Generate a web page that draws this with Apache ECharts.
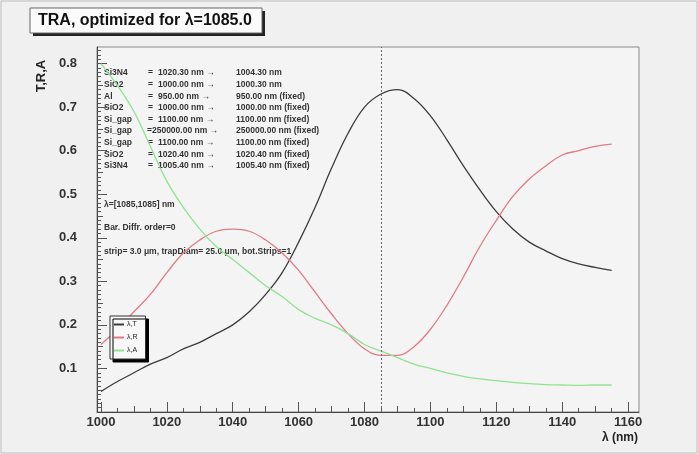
<!DOCTYPE html>
<html><head><meta charset="utf-8">
<script src="https://cdn.jsdelivr.net/npm/echarts@6/dist/echarts.min.js"></script>
<style>html,body{margin:0;padding:0;background:#f0f0f0}#c{width:698px;height:454px}</style>
</head><body><div id="c"></div>
<script>
// ---- data ----
const wavelengths = [1000,1005,1010,1015,1020,1025,1030,1035,1040,1045,1050,1055,1060,1065,1070,1075,1080,1085,1090,1095,1100,1105,1110,1115,1120,1125,1130,1135,1140,1145,1150,1155];
const transmission = [0.047,0.07,0.09,0.11,0.125,0.145,0.16,0.18,0.20,0.23,0.27,0.32,0.39,0.47,0.56,0.64,0.70,0.73,0.74,0.72,0.68,0.625,0.565,0.51,0.46,0.42,0.39,0.37,0.352,0.34,0.332,0.325];
const reflection = [0.155,0.19,0.23,0.27,0.32,0.365,0.395,0.415,0.42,0.415,0.395,0.365,0.325,0.275,0.225,0.18,0.145,0.13,0.13,0.15,0.19,0.245,0.31,0.38,0.44,0.495,0.535,0.565,0.59,0.60,0.61,0.615];
const absorption = [0.80,0.75,0.69,0.61,0.53,0.47,0.42,0.38,0.35,0.32,0.29,0.265,0.235,0.215,0.20,0.18,0.155,0.14,0.125,0.11,0.10,0.09,0.082,0.076,0.072,0.068,0.065,0.063,0.062,0.061,0.062,0.062];
const seriesNames = ['λ,T','λ,R','λ,A'];
const xTickLabels = [1000,1020,1040,1060,1080,1100,1120,1140,1160];
const yTickLabels = [0.1,0.2,0.3,0.4,0.5,0.6,0.7,0.8];
const targetWavelength = 1085;
const titleText = 'TRA, optimized for λ=1085.0';
const layerRows = [
  ['Si3N4','=','1020.30 nm →','1004.30 nm'],
  ['SiO2','=','1000.00 nm →','1000.30 nm'],
  ['Al','=','950.00 nm →','950.00 nm (fixed)'],
  ['SiO2','=','1000.00 nm →','1000.00 nm (fixed)'],
  ['Si_gap','=','1100.00 nm →','1100.00 nm (fixed)'],
  ['Si_gap','','=250000.00 nm →','250000.00 nm (fixed)'],
  ['Si_gap','=','1100.00 nm →','1100.00 nm (fixed)'],
  ['SiO2','=','1020.40 nm →','1020.40 nm (fixed)'],
  ['Si3N4','=','1005.40 nm →','1005.40 nm (fixed)']
];
const infoLines = ['λ=[1085,1085] nm','Bar. Diffr. order=0','strip= 3.0 μm, trapDiam= 25.0 μm, bot.Strips=1'];

// ---- chart ----
const FF = '"Liberation Sans", Arial, sans-serif';
const xMin = 998.8, xMax = 1163.3, yMin = 0, yMax = 0.838;
const minorX = [], midX = [];
for (let v = 1000; v <= 1160; v += 5) { if (v % 20 !== 0) { (v % 10 === 0 ? midX : minorX).push(v); } }
const minorY = [], midY = [];
for (let i = 1; i <= 83; i++) { if (i % 10 !== 0) { (i % 5 === 0 ? midY : minorY).push(i / 100); } }

const zip = ys => wavelengths.map((x, i) => [x, ys[i]]);

function tickAxis(dim, vals, len) {
  return {type:'value', min: dim==='x'?xMin:yMin, max: dim==='x'?xMax:yMax,
    position: dim==='x'?'bottom':'left',
    axisLine:{show:false}, axisLabel:{show:false}, splitLine:{show:false},
    axisTick:{show:true, inside:true, length:len, customValues: vals, lineStyle:{color:'#555', width:1}}};
}

const graphics = [
  {type:'rect', shape:{x:1,y:1,width:696,height:452}, style:{fill:'none', stroke:'#bdbdbd', lineWidth:1}, silent:true},
  {type:'rect', shape:{x:33,y:11,width:232,height:25}, style:{fill:'#222'}, silent:true},
  {type:'rect', shape:{x:30,y:8,width:232,height:25}, style:{fill:'#fbfbfb', stroke:'#666', lineWidth:1}, silent:true},
  {type:'text', x:38, y:21, style:{text:titleText, font:'bold 16px '+FF, fill:'#111', textVerticalAlign:'middle'}, silent:true},
  {type:'text', x:41, y:76, rotation:Math.PI/2, style:{text:'T,R,A', font:'bold 13px '+FF, fill:'#222', textAlign:'center', textVerticalAlign:'middle'}, silent:true},
  {type:'text', x:638, y:438, style:{text:'λ (nm)', font:'bold 12px '+FF, fill:'#222', textAlign:'right', textVerticalAlign:'middle'}, silent:true}
];
const rowY0 = 73, rowDy = 11.6;
layerRows.forEach((r, i) => {
  const y = rowY0 + i * rowDy;
  const cols = [104, r[1] ? 148 : 0, r[1] ? 158 : 147, 236];
  [0,1,2,3].forEach(k => {
    if (!r[k]) return;
    graphics.push({type:'text', x: cols[k], y: y, style:{text:r[k], font:'bold 8.5px '+FF, fill:'#333', textVerticalAlign:'middle'}, silent:true});
  });
});
infoLines.forEach((t, i) => {
  graphics.push({type:'text', x:104, y:[205,228,252][i], style:{text:t, font:'bold 8.5px '+FF, fill:'#333', textVerticalAlign:'middle'}, silent:true});
});

const chart = echarts.init(document.getElementById('c'), null, {renderer:'canvas'});
chart.setOption({
  animation:false,
  backgroundColor:'#f0f0f0',
  grid:{left:97, right:59, top:47, bottom:42, show:true, backgroundColor:'#f4f4f4', borderColor:'#8a8a8a', borderWidth:1},
  xAxis:[
    {type:'value', min:xMin, max:xMax, position:'bottom',
     axisLine:{show:true, lineStyle:{color:'#444', width:1}},
     axisTick:{show:true, inside:true, length:10, customValues:xTickLabels, lineStyle:{color:'#555'}},
     axisLabel:{customValues:xTickLabels, fontFamily:FF, fontWeight:'bold', fontSize:13, color:'#333', margin:4, formatter:v=>String(Math.round(v))},
     splitLine:{show:false}},
    tickAxis('x', midX, 6),
    tickAxis('x', minorX, 4)
  ],
  yAxis:[
    {type:'value', min:yMin, max:yMax, position:'left',
     axisLine:{show:true, lineStyle:{color:'#444', width:1}},
     axisTick:{show:true, inside:true, length:10, customValues:yTickLabels, lineStyle:{color:'#555'}},
     axisLabel:{customValues:yTickLabels, fontFamily:FF, fontWeight:'bold', fontSize:13, color:'#333', margin:20, formatter:v=>v.toFixed(1)},
     splitLine:{show:false}},
    tickAxis('y', midY, 6),
    tickAxis('y', minorY, 4)
  ],
  legend:{data:seriesNames, orient:'vertical', left:110, top:316, itemWidth:10, itemHeight:2, itemGap:6, icon:'rect',
    padding:[5,8,5,4], backgroundColor:'#f8f8f8', borderColor:'#333', borderWidth:1,
    shadowColor:'#000', shadowOffsetX:3, shadowOffsetY:3, shadowBlur:0,
    textStyle:{fontFamily:FF, fontSize:7, color:'#222', padding:[0,0,0,-2]}},
  graphic: graphics,
  series:[
    {name:seriesNames[0], type:'line', data:zip(transmission), smooth:0.4, showSymbol:false, symbol:'none',
     lineStyle:{color:'#3c3c3c', width:1.3}, itemStyle:{color:'#3c3c3c'},
     markLine:{silent:true, symbol:'none', label:{show:false}, lineStyle:{color:'#666', type:[2,2], width:1},
       data:[{xAxis:targetWavelength}]}},
    {name:seriesNames[1], type:'line', data:zip(reflection), smooth:0.4, showSymbol:false, symbol:'none',
     lineStyle:{color:'#e07a86', width:1.3}, itemStyle:{color:'#e07a86'}},
    {name:seriesNames[2], type:'line', data:zip(absorption), smooth:0.4, showSymbol:false, symbol:'none',
     lineStyle:{color:'#8fe38f', width:1.3}, itemStyle:{color:'#8fe38f'}}
  ]
});
</script></body></html>
